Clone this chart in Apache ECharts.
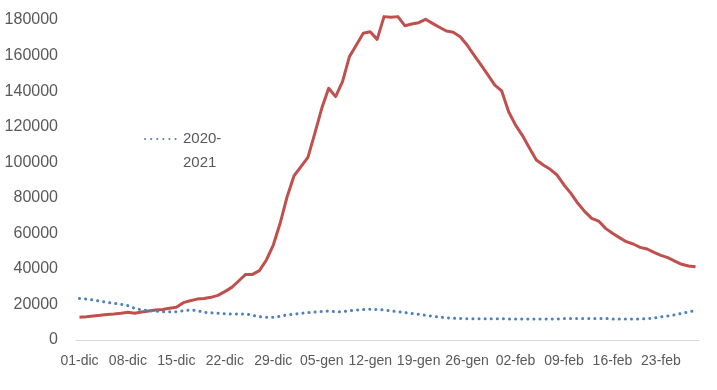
<!DOCTYPE html>
<html><head><meta charset="utf-8">
<script src="https://cdn.jsdelivr.net/npm/echarts@6/dist/echarts.min.js"></script>
<style>html,body{margin:0;padding:0;background:#fff}#c{width:717px;height:390px}</style>
</head><body><div id="c"></div>
<script>
const categories = [
 '01-dic','02-dic','03-dic','04-dic','05-dic','06-dic','07-dic','08-dic','09-dic','10-dic',
 '11-dic','12-dic','13-dic','14-dic','15-dic','16-dic','17-dic','18-dic','19-dic','20-dic',
 '21-dic','22-dic','23-dic','24-dic','25-dic','26-dic','27-dic','28-dic','29-dic','30-dic','31-dic',
 '01-gen','02-gen','03-gen','04-gen','05-gen','06-gen','07-gen','08-gen','09-gen','10-gen',
 '11-gen','12-gen','13-gen','14-gen','15-gen','16-gen','17-gen','18-gen','19-gen','20-gen',
 '21-gen','22-gen','23-gen','24-gen','25-gen','26-gen','27-gen','28-gen','29-gen','30-gen','31-gen',
 '01-feb','02-feb','03-feb','04-feb','05-feb','06-feb','07-feb','08-feb','09-feb','10-feb',
 '11-feb','12-feb','13-feb','14-feb','15-feb','16-feb','17-feb','18-feb','19-feb','20-feb',
 '21-feb','22-feb','23-feb','24-feb','25-feb','26-feb','27-feb','28-feb'
];
const series2122 = [
 12800,13100,13500,13900,14400,14600,15000,15600,15000,15700,
 16300,16900,17200,17800,18400,21000,22100,23000,23400,24000,
 25100,27200,29600,33200,36900,36900,39000,45000,53400,65800,80600,
 92400,97500,102700,116200,130300,141600,136900,145300,159400,165900,
 172500,173400,169100,181900,181500,181900,176800,177750,178500,180400,
 178100,175900,173800,173100,170600,165900,160300,154700,149100,143400,140100,
 128400,120900,115000,108000,101250,98400,96000,92800,87200,82500,
 76900,72200,68400,66900,62800,60000,57600,55300,54000,52100,
 51200,49300,47600,46300,44400,42600,41600,41200
];
const series2021 = [
 23400,23000,22500,21800,21200,20600,20100,19300,17800,16900,
 16500,16200,15900,15900,15900,16400,16900,16500,15600,15300,
 15000,14800,14600,14600,14600,13900,13100,12800,12800,13400,14100,
 14500,15000,15400,15700,16000,16300,15900,15900,16400,16900,
 17100,17300,17100,16900,16300,15900,15400,14900,14400,13900,
 13400,12900,12500,12200,12100,12000,12000,12000,12000,12000,12000,
 11800,11800,11800,11800,11800,11800,11800,11800,12100,12100,
 12100,12100,12100,12100,12100,11800,11800,11800,11800,11800,
 12000,12400,13000,13500,14100,15000,15800,16500
];
const yTicks = {min: 0, max: 180000, interval: 20000};
const legendLabel = '2020-2021';

const chart = echarts.init(document.getElementById('c'), null, {renderer: 'canvas'});
chart.setOption({
  animation: false,
  backgroundColor: '#ffffff',
  textStyle: {fontFamily: 'Liberation Sans, Arial, sans-serif'},
  grid: {left: 76, right: 18, top: 20, bottom: 50, containLabel: false},
  legend: {
    data: [legendLabel],
    left: 139, top: 98,
    itemWidth: 33, itemHeight: 14, itemGap: 6,
    itemStyle: {opacity: 0},
    formatter: function () { return ' \n2020-\n2021'; },
    textStyle: {color: '#595959', fontSize: 15, lineHeight: 24}
  },
  xAxis: {
    type: 'category', data: categories, boundaryGap: true,
    axisLine: {show: true, lineStyle: {color: '#D9D9D9', width: 1}},
    axisTick: {show: false},
    axisLabel: {interval: 6, color: '#595959', fontSize: 14, margin: 14}
  },
  yAxis: {
    type: 'value', min: yTicks.min, max: yTicks.max, interval: yTicks.interval,
    axisLine: {show: false}, axisTick: {show: false}, splitLine: {show: false},
    axisLabel: {color: '#595959', fontSize: 16, margin: 18, formatter: function (v) { return String(v); }}
  },
  series: [
    {
      name: '2021-2022', type: 'line', data: series2122, showSymbol: false, symbol: 'none',
      clip: false,
      lineStyle: {color: '#C0504D', width: 3, join: 'round'},
      itemStyle: {color: '#C0504D'}
    },
    {
      name: legendLabel, type: 'line', data: series2021, showSymbol: false, symbol: 'none',
      clip: false,
      lineStyle: {color: '#4F81BD', width: 3, type: [0.1, 6], cap: 'round'},
      itemStyle: {color: '#4F81BD'}
    }
  ]
});
</script></body></html>
